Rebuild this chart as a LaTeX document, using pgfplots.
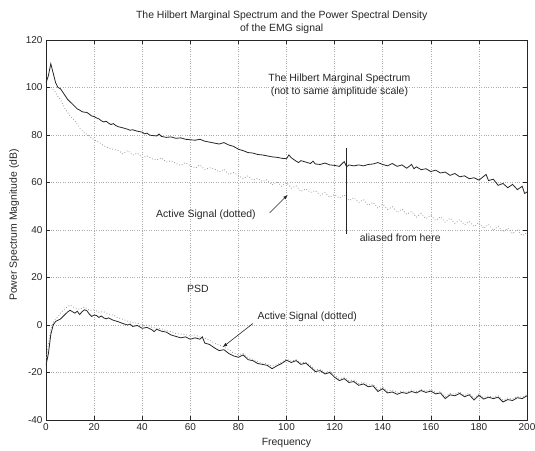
\documentclass[border=0pt]{standalone}
\usepackage{pgfplots}
\pgfplotsset{compat=1.18}
\usepackage{pgfplotstable}
\usepackage{fontspec}
\setmainfont{Liberation Sans}

% Hilbert marginal spectrum, full record (solid)
\pgfplotstableread{
x y
0 102
1 105
2 110
3 106
4 102
5 100
6 99.5
7 98
8 96.5
9 95
10 94
11 93
12 92
13 91
14 90.5
15 89.8
16 89.6
17 89.5
18 88.8
19 88.0
20 87.8
21 87.2
22 86.8
23 86.0
24 85.5
25 85.8
26 85.0
27 84.4
28 84.8
29 84.0
30 83.5
32 83.0
34 82.4
35 82.0
36 82.2
38 81.6
40 81.2
41 80.5
42 80.8
43 80.0
44 79.8
46 79.6
47 80.4
48 79.4
50 79.0
52 79.2
54 78.6
56 78.8
58 78.2
60 78.0
62 77.8
64 78.2
66 77.4
68 77.0
70 76.6
72 76.2
74 76.8
76 75.8
78 75.2
80 74.0
82 73.4
84 72.6
86 72.4
88 71.8
90 71.6
92 71.2
94 70.8
96 70.6
98 70.2
100 70.0
101 71.6
102 70.4
104 69.0
105 68.4
106 69.2
108 68.6
110 68.0
111 69.0
112 67.8
114 67.6
116 68.2
118 67.4
120 67.2
122 66.8
123 67.8
124 68.8
125 66.6
126 67.4
128 67.0
130 67.4
132 67.0
134 67.6
136 67.8
138 68.4
140 67.6
142 67.0
144 68.0
146 66.8
148 67.4
150 66.0
152 67.6
153 65.8
154 66.6
156 65.4
158 65.8
160 64.6
162 65.2
164 64.0
166 64.4
168 63.0
170 63.8
172 62.4
174 62.8
176 61.6
178 62.0
180 61.0
182 62.6
183 63.4
184 60.8
186 61.4
188 58.8
190 59.6
192 57.8
194 59.2
196 57.0
198 58.4
199 55.4
200 56.0
}\hmsFull

% Hilbert marginal spectrum, active signal (dotted)
\pgfplotstableread{
x y
2 100
3 99
4 98
5 96
6 95
7 93
8 91
9 89.5
10 88
12 86
14 83
16 81
18 79.5
20 78
22 77
24 75.5
26 74.5
28 74
30 73.5
32 72
34 73.5
36 71.5
38 72.4
40 70.5
42 71.2
44 70
46 69.5
48 70.4
50 68.6
52 69.2
54 68
56 67.2
58 68.4
60 67
62 66
64 67.4
66 65.4
68 66.2
70 65.8
72 64.4
74 65.6
76 63.4
78 64.2
80 63
82 61.6
84 62.8
86 61
88 61.8
90 60.4
92 61.2
94 59
96 60.2
98 58.4
100 60
102 57.6
104 58.6
106 56.2
108 57.4
110 55.8
112 56.6
114 54.6
116 55.8
118 53.8
120 55
122 53.4
124 54.8
126 52.4
128 53.6
130 51.6
132 52.8
134 50.4
136 51.6
138 49.2
140 50.8
142 48.6
144 49.8
146 47.4
148 48.8
150 46.6
152 47.8
154 45.4
156 47
158 44.8
160 46.2
162 44
164 45.6
166 43.2
168 45
170 42.8
172 44.4
174 42.2
176 43.6
178 41.4
180 43.2
182 40.6
184 42.4
186 39.8
188 41.6
190 39.2
192 40.8
194 38.4
196 40.2
198 37.6
200 39
}\hmsActive

% Power spectral density, full record (solid)
\pgfplotstableread{
x y
0 -17
1 -12
2 -4
3 0
4 1.5
5 2
6 2.5
7 3.5
8 4.5
9 5.5
10 6.2
11 5.6
12 5.0
13 5.8
14 4.4
15 5.6
16 6.4
17 6.0
18 4.6
19 3.6
20 4.2
21 4.0
22 3.2
23 3.8
24 3.0
25 2.6
26 3.0
28 2.0
30 1.4
32 0.6
34 0.0
35 0.4
36 -0.6
38 -0.2
40 -1.4
42 -1.0
44 -2.0
45 -2.8
46 -1.8
48 -2.6
50 -3.0
52 -4.2
54 -4.8
56 -5.4
58 -5.0
60 -6.0
62 -5.4
64 -6.0
65 -5.0
66 -7.6
68 -8.2
70 -9.6
72 -10.8
74 -10.4
76 -12.0
78 -13.0
80 -13.6
82 -12.6
84 -14.6
86 -15.0
88 -16.2
90 -16.6
92 -17.0
94 -18.4
96 -17.2
98 -16.2
100 -14.8
102 -15.8
104 -15.0
106 -16.6
108 -16.0
110 -17.8
112 -19.6
114 -19.2
116 -20.6
118 -20.0
120 -22.0
122 -23.4
124 -22.6
126 -24.2
128 -23.8
130 -25.4
132 -24.8
134 -26.0
136 -25.6
138 -28.0
140 -26.8
142 -28.6
144 -28.2
146 -29.2
148 -28.4
150 -28.8
152 -28.0
154 -28.6
156 -27.6
158 -28.4
160 -27.8
162 -29.0
164 -28.6
166 -31.0
168 -29.4
170 -29.8
172 -28.8
174 -30.2
176 -29.4
178 -31.6
180 -29.6
182 -31.2
184 -30.4
186 -31.0
188 -30.4
190 -32.4
192 -31.4
194 -31.8
196 -30.6
198 -31.0
200 -29.8
}\psdFull

% Power spectral density, active signal (dotted)
\pgfplotstableread{
x y
0 -15
1 -8
2 -2
3 1
4 2.5
5 3.5
6 5
8 7
10 8.4
12 7.2
14 6.6
16 7.6
18 6.2
20 6.4
22 5.4
24 5.6
26 4.6
28 4.2
30 3.0
32 2.4
34 1.6
36 1.0
38 0.8
40 -0.2
42 0.0
44 -1.0
46 -1.4
48 -1.6
50 -2.4
52 -2.8
54 -3.6
56 -3.8
58 -4.0
60 -4.6
62 -4.2
64 -5.0
66 -5.6
68 -6.4
70 -7.6
72 -8.4
74 -9.2
76 -10.4
78 -11.8
80 -12.6
82 -12.0
84 -13.8
86 -14.4
88 -15.4
90 -16.0
92 -16.4
94 -17.4
96 -16.6
98 -15.6
100 -14.4
102 -15.2
104 -14.6
106 -16.0
108 -15.6
110 -17.2
112 -18.8
114 -18.6
116 -20.0
118 -19.4
120 -21.2
122 -22.6
124 -22.0
126 -23.4
128 -23.2
130 -24.6
132 -24.2
134 -25.2
136 -25.0
138 -27.2
140 -26.2
142 -27.8
144 -27.4
146 -28.4
148 -27.8
150 -28.2
152 -27.4
154 -28.0
156 -27.0
158 -27.8
160 -27.2
162 -28.4
164 -28.0
166 -30.2
168 -28.8
170 -29.2
172 -28.2
174 -29.6
176 -28.8
178 -30.8
180 -29.0
182 -30.6
184 -29.8
186 -30.4
188 -29.8
190 -31.6
192 -30.8
194 -31.2
196 -30.0
198 -30.4
200 -29.2
}\psdActive

\definecolor{ink}{gray}{0.15}
\definecolor{dotink}{gray}{0.6}
\newcommand{\annfont}{\fontsize{10.5}{13}\selectfont}

\begin{document}
\begin{tikzpicture}
\begin{axis}[
  name=ax,
  scale only axis,
  width=481bp, height=380bp,
  xmin=0, xmax=200, ymin=-40, ymax=120,
  xtick={0,20,...,200}, ytick={-40,-20,...,120},
  tick align=inside,
  major tick length=4bp,
  xtick pos=both, ytick pos=both,
  grid=major,
  major grid style={dotted, gray!65, line width=0.6bp},
  axis line style={ink, line width=0.7bp},
  every tick/.style={ink, line width=0.6bp},
  tick label style={font=\fontsize{10}{12}\selectfont, text=ink},
  /pgf/number format/assume math mode=true,
  title={The Hilbert Marginal Spectrum and the Power Spectral Density\\of the EMG signal},
  title style={font=\fontsize{10.5}{13}\selectfont, align=center, text=ink,
               at={(axis description cs:0.49,1)}, anchor=south, yshift=-3bp},
  xlabel={Frequency},
  ylabel={Power Spectrum Magnitude (dB)},
  label style={font=\annfont, text=ink},
  xlabel style={at={(axis description cs:0.5,-0.06)}, anchor=center},
  ylabel style={at={(axis description cs:-0.066,0.513)}, anchor=center},
  clip=true,
]
\addplot[dotink, dotted, line width=0.8bp] table {\hmsActive};
\addplot[ink, line width=0.8bp] table {\hmsFull};
\addplot[dotink, dotted, line width=0.8bp] table {\psdActive};
\addplot[ink, line width=0.8bp] table {\psdFull};

\draw[ink, line width=0.8bp] (axis cs:125,74.5) -- (axis cs:125,38.5);
\node[font=\annfont, text=ink, anchor=west] at (axis cs:129,36.6) {aliased from here};
\node[font=\annfont, text=ink, align=center] at (axis cs:122,100.9)
  {The Hilbert Marginal Spectrum\\(not to same amplitude scale)};
\node[font=\annfont, text=ink] at (axis cs:66.5,46.3) {Active Signal (dotted)};
\draw[ink, -latex, line width=0.6bp] (axis cs:93,47.2) -- (axis cs:100.5,54.8);
\node[font=\annfont, text=ink] at (axis cs:63.2,15.2) {PSD};
\node[font=\annfont, text=ink, anchor=west] at (axis cs:86.5,3.4) {Active Signal (dotted)};
\draw[ink, -latex, line width=0.6bp] (axis cs:86,0.6) -- (axis cs:73.5,-9.3);
\end{axis}
\pgfresetboundingbox
\useasboundingbox ([xshift=-46bp,yshift=-31bp]ax.south west) rectangle ([xshift=8bp,yshift=40bp]ax.north east);
\end{tikzpicture}
\end{document}
